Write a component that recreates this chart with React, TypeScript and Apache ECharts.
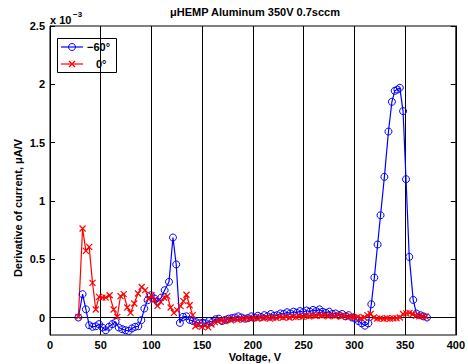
import React, { useEffect, useRef } from "react";
import * as echarts from "echarts";

const titleText = "μHEMP Aluminum 350V 0.7sccm";
const xAxisTitle = "Voltage, V";
const yAxisTitle = "Derivative of current, μA/V";
const seriesNames = ["−60°", "0°"];
const xTicks = [0, 50, 100, 150, 200, 250, 300, 350, 400];
const yTicks = [0, 0.5, 1, 1.5, 2, 2.5];

// −60° series (units of 1e-3 μA/V)
const blueV = [
  28, 32.1, 35.4, 38.6, 41.9, 45.1, 48.3, 51.6, 54.9, 58.1, 61.4, 64.6, 67.8, 71.2, 74.4, 77.5,
  80.7, 83.9, 87.1, 90.0, 93.0, 96.2, 99.4, 103.0, 106.0, 109.7, 113.0, 117.3, 121.2, 124.4,
  128.0, 131.2, 134.4, 137.6, 140.8, 144.0, 147.2, 150.4, 153.6, 156.8, 160.0, 163.2, 166.4,
  169.6, 172.8, 176.0, 179.2, 182.4, 185.6, 188.8, 192.0, 195.2, 198.4, 201.6, 204.8, 208.0,
  211.2, 214.4, 217.6, 220.8, 224.0, 227.2, 230.4, 233.6, 236.8, 240.0, 243.2, 246.4, 249.6,
  252.8, 256.0, 259.2, 262.4, 265.6, 268.8, 272.0, 275.2, 278.4, 281.6, 284.8, 288.0, 291.2,
  294.4, 297.6, 300.8, 304.0, 307.2, 310.4, 313.8, 316.7, 319.7, 322.9, 325.8, 329.6, 333.6,
  337.0, 339.8, 342.4, 344.8, 348.0, 350.9, 354.1, 358.0, 361.2, 365.1, 368.0, 371.6,
];
const blueI = [
  0.0, 0.2, 0.07, -0.066, -0.08, -0.075, -0.057, -0.086, -0.109, -0.08, -0.057, -0.037, -0.086,
  -0.1, -0.109, -0.115, -0.094, -0.08, -0.075, -0.023, 0.077, 0.148, 0.191, 0.163, 0.134, 0.171,
  0.234, 0.306, 0.686, 0.455, -0.046, 0.005, 0.01, -0.02, -0.03, -0.04, -0.05, -0.045, -0.05,
  -0.03, -0.04, -0.015, -0.01, -0.03, -0.02, -0.01, -0.005, 0.0, 0.01, 0.0, -0.01, -0.005, 0.01,
  0.0, 0.015, 0.005, 0.02, 0.01, 0.03, 0.015, 0.02, 0.035, 0.03, 0.045, 0.035, 0.05, 0.04, 0.055,
  0.045, 0.06, 0.05, 0.065, 0.055, 0.07, 0.05, 0.04, 0.05, 0.03, 0.035, 0.02, 0.03, 0.01, 0.02,
  0.0, -0.01, -0.03, -0.05, -0.07, -0.05, 0.114, 0.343, 0.626, 0.877, 1.206, 1.595, 1.85, 1.944,
  1.955, 1.97, 1.77, 1.186, 0.52, 0.151, 0.034, 0.02, 0.01, 0.0,
];

// 0° series
const redV = [
  28, 32.1, 35.4, 38.6, 41.9, 45.1, 48.3, 51.6, 54.9, 58.8, 62.7, 66.3, 69.5, 72.7, 76.2, 79.4,
  83.0, 86.7, 90.4, 93.8, 97.0, 100.0, 102.6, 105.9, 109.1, 112.4, 115.6, 118.9, 122.1, 125.3,
  128.7, 131.5, 134.5, 137.6, 140.6, 143.3, 146.5, 149.6, 152.8, 156.0, 159.2, 162.4, 165.6,
  168.8, 172.0, 175.2, 178.4, 181.6, 184.8, 188.0, 191.2, 194.4, 197.6, 200.8, 204.0, 207.2,
  210.4, 213.6, 216.8, 220.0, 223.2, 226.4, 229.6, 232.8, 236.0, 239.2, 242.4, 245.6, 248.8,
  252.0, 255.2, 258.4, 261.6, 264.8, 268.0, 271.2, 274.4, 277.6, 280.8, 284.0, 287.2, 290.4,
  293.6, 296.8, 300.0, 303.2, 306.4, 309.6, 312.8, 316.0, 319.2, 322.4, 325.6, 328.8, 332.0,
  335.2, 338.4, 341.6, 344.8, 348.0, 351.2, 354.4, 357.6, 360.8, 364.0, 367.2, 370.4,
];
const redI = [
  0.005, 0.763, 0.571, 0.606, 0.297, 0.069, 0.177, 0.171, 0.171, 0.191, 0.069, 0.005, 0.183, 0.2,
  0.086, 0.04, 0.12, 0.206, 0.262, 0.235, 0.16, 0.191, 0.15, 0.1, 0.134, 0.171, 0.183, 0.086,
  0.04, 0.063, 0.097, 0.14, 0.195, 0.105, 0.02, -0.075, -0.06, -0.08, -0.07, -0.085, -0.06,
  -0.04, -0.03, -0.02, -0.03, -0.015, -0.025, -0.01, -0.02, -0.01, -0.015, -0.005, -0.012,
  -0.005, -0.01, 0.0, -0.008, 0.0, -0.01, 0.0, -0.005, 0.005, 0.0, 0.005, -0.002, 0.008, 0.003,
  0.01, 0.005, 0.015, 0.01, 0.018, 0.012, 0.02, 0.015, 0.02, 0.01, 0.018, 0.012, 0.02, 0.008,
  0.015, 0.005, 0.01, 0.0, 0.005, -0.005, 0.0, 0.02, 0.03, 0.0, -0.01, -0.008, -0.012, -0.006,
  -0.01, -0.008, -0.005, 0.0, 0.03, 0.035, 0.04, 0.03, 0.015, 0.01, 0.012, 0.008,
];

const zeroLine = [
  [0, 0],
  [372, 0],
];

const FONT = "'Liberation Sans', Arial, Helvetica, sans-serif";
const BLUE = "#0000ff";
const RED = "#ff0000";

export default function App() {
  const ref = useRef<HTMLDivElement>(null);
  useEffect(() => {
    if (!ref.current) return;
    const chart = echarts.init(ref.current, null, { renderer: "svg" });
    const blueData = blueV.map((v, i) => [v, blueI[i]]);
    const redData = redV.map((v, i) => [v, redI[i]]);
    const labelStyle = { color: "#000", fontWeight: "bold" as const, fontSize: 11, lineHeight: 11, fontFamily: FONT };
    const lx = 61, rx = 83, mx = 72;
    chart.setOption({
      animation: false,
      backgroundColor: "#fff",
      grid: { left: 50, right: 8, top: 26, bottom: 29, show: true, borderColor: "#000", borderWidth: 1, backgroundColor: "transparent" },
      xAxis: {
        type: "value",
        min: 0,
        max: 400,
        interval: 50,
        axisLine: { show: true, lineStyle: { color: "#000", width: 1 } },
        axisTick: { show: true, inside: true, length: 5, lineStyle: { color: "#000" } },
        axisLabel: { ...labelStyle, margin: 4, formatter: (v: number) => (xTicks.includes(v) ? String(v) : "") },
        splitLine: { show: true, lineStyle: { color: "#000", width: 1, type: "solid" } },
      },
      yAxis: [
        {
          type: "value",
          min: -0.15,
          max: 2.5,
          axisLine: { show: true, onZero: false, lineStyle: { color: "#000", width: 1 } },
          axisTick: { show: true, inside: true, length: 5, customValues: yTicks, lineStyle: { color: "#000" } },
          axisLabel: { ...labelStyle, margin: 5, customValues: yTicks },
          splitLine: { show: false },
        },
        {
          type: "value",
          position: "right",
          min: -0.15,
          max: 2.5,
          axisLine: { show: true, onZero: false, lineStyle: { color: "#000", width: 1 } },
          axisTick: { show: true, inside: true, length: 5, customValues: yTicks, lineStyle: { color: "#000" } },
          axisLabel: { show: false, customValues: yTicks },
          splitLine: { show: false },
        },
      ],
      series: [
        {
          type: "line",
          data: zeroLine,
          symbol: "none",
          silent: true,
          lineStyle: { color: "#000", width: 1 },
        },
        {
          name: seriesNames[0],
          type: "line",
          data: blueData,
          symbol: "circle",
          symbolSize: 7,
          itemStyle: { color: "transparent", borderColor: BLUE, borderWidth: 1 },
          lineStyle: { color: BLUE, width: 1.2 },
        },
        {
          name: seriesNames[1],
          type: "line",
          data: redData,
          symbol: "path://M0,0L10,10M10,0L0,10",
          symbolSize: 6,
          itemStyle: { color: "none", borderColor: RED, borderWidth: 1.2 },
          lineStyle: { color: RED, width: 1.2 },
        },
      ],
      graphic: [
        {
          type: "text",
          style: { x: 255, y: 12, text: titleText, fill: "#000", font: `bold 11px ${FONT}`, textAlign: "center", textVerticalAlign: "middle" },
        },
        {
          type: "text",
          style: { x: 50, y: 19.5, text: "x 10", fill: "#000", font: `bold 11px ${FONT}`, textAlign: "left", textVerticalAlign: "middle" },
        },
        {
          type: "text",
          style: { x: 73, y: 14, text: "−3", fill: "#000", font: `bold 8px ${FONT}`, textAlign: "left", textVerticalAlign: "middle" },
        },
        {
          type: "text",
          style: { x: 255, y: 357, text: xAxisTitle, fill: "#000", font: `bold 11px ${FONT}`, lineHeight: 11, textAlign: "center", textVerticalAlign: "middle" },
        },
        {
          type: "text",
          x: 18,
          y: 208,
          rotation: Math.PI / 2,
          style: { x: 0, y: 0, text: yAxisTitle, fill: "#000", font: `bold 11px ${FONT}`, textAlign: "center", textVerticalAlign: "middle" },
        },
        {
          type: "group",
          z: 100,
          children: [
            { type: "rect", shape: { x: 57.5, y: 38.5, width: 59, height: 34 }, style: { fill: "#fff", stroke: "#000", lineWidth: 1 } },
            { type: "line", shape: { x1: lx, y1: 47, x2: rx, y2: 47 }, style: { stroke: BLUE, lineWidth: 1.2 } },
            { type: "circle", shape: { cx: mx, cy: 47, r: 3.5 }, style: { fill: "none", stroke: BLUE, lineWidth: 1 } },
            { type: "text", style: { x: 87, y: 47, text: seriesNames[0], fill: "#000", font: `bold 11px ${FONT}`, textVerticalAlign: "middle" } },
            { type: "line", shape: { x1: lx, y1: 64, x2: rx, y2: 64 }, style: { stroke: RED, lineWidth: 1.2 } },
            { type: "line", shape: { x1: mx - 3, y1: 61, x2: mx + 3, y2: 67 }, style: { stroke: RED, lineWidth: 1.2 } },
            { type: "line", shape: { x1: mx - 3, y1: 67, x2: mx + 3, y2: 61 }, style: { stroke: RED, lineWidth: 1.2 } },
            { type: "text", style: { x: 96, y: 64, text: seriesNames[1], fill: "#000", font: `bold 11px ${FONT}`, textVerticalAlign: "middle" } },
          ],
        },
      ],
    });
    return () => chart.dispose();
  }, []);
  return <div ref={ref} style={{ position: "fixed", left: 0, top: 0, width: 468, height: 364 }} />;
}
